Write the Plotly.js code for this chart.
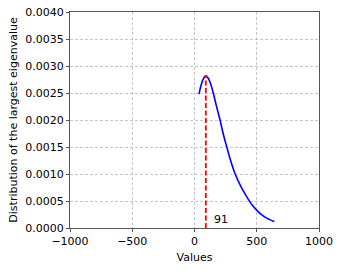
<!DOCTYPE html>
<html><head><meta charset="utf-8">
<script src="https://cdn.plot.ly/plotly-3.0.1.min.js"></script>
<style>html,body{margin:0;padding:0;background:#fff}#c{width:341px;height:271px}</style>
</head><body><div id="c"></div>
<script>
const curveX = [36, 50, 65, 80, 91, 105, 125, 151, 175, 205, 230, 258, 290, 325, 370, 419, 465, 513, 560, 600, 641];
const curveY = [0.00248, 0.00262, 0.00273, 0.00280, 0.00281, 0.00279, 0.00270, 0.00250, 0.00227, 0.00200, 0.00175, 0.00151, 0.00125, 0.00101, 0.00078, 0.00058, 0.00042, 0.00030, 0.00021, 0.00016, 0.00012];
const peakX = [91, 91];
const peakY = [0, 0.00281];
const peakLabel = "91";
const xTicks = [-1000, -500, 0, 500, 1000];
const yTicks = [0, 0.0005, 0.001, 0.0015, 0.002, 0.0025, 0.003, 0.0035, 0.004];

const font = {family: "DejaVu Sans", size: 11, color: "#000"};
const axisCommon = {
  showline: true, linecolor: "#555", linewidth: 1, mirror: true,
  ticks: "outside", ticklen: 3, tickcolor: "#555", tickwidth: 1,
  showgrid: true, gridcolor: "#b8b8b8", griddash: "3px,2px", gridwidth: 0.8,
  zeroline: false, tickfont: font
};
const data = [
  {x: curveX, y: curveY, mode: "lines", line: {color: "#0000ff", width: 1.6, shape: "spline"}, hoverinfo: "skip"},
  {x: peakX, y: peakY, mode: "lines", line: {color: "#ff0000", width: 1.8, dash: "5px,2.5px"}, hoverinfo: "skip"},
  {x: [peakX[1]], y: [peakY[1]], mode: "markers", marker: {color: "#ff0000", size: 3}, hoverinfo: "skip"}
];
const layout = {
  width: 341, height: 271,
  margin: {l: 70, r: 22, t: 12, b: 43},
  paper_bgcolor: "#fff", plot_bgcolor: "#fff",
  showlegend: false, font: font,
  xaxis: Object.assign({}, axisCommon, {range: [-1000, 1000], tickvals: xTicks, ticktext: xTicks.map(v => v < 0 ? "\u2212" + Math.abs(v) : String(v)),
    title: {text: "Values", font: font, standoff: 6}}),
  yaxis: Object.assign({}, axisCommon, {range: [0, 0.004], tickvals: yTicks, ticktext: yTicks.map(v => v.toFixed(4)),
    title: {text: "Distribution of the largest eigenvalue", font: font, standoff: 5}}),
  annotations: [{x: peakX[0] + 50, y: 0, xref: "x", yref: "y", text: peakLabel, showarrow: false,
    xanchor: "left", yanchor: "bottom", font: font, yshift: 0}]
};
Plotly.newPlot("c", data, layout, {staticPlot: true, displayModeBar: false});
</script></body></html>
